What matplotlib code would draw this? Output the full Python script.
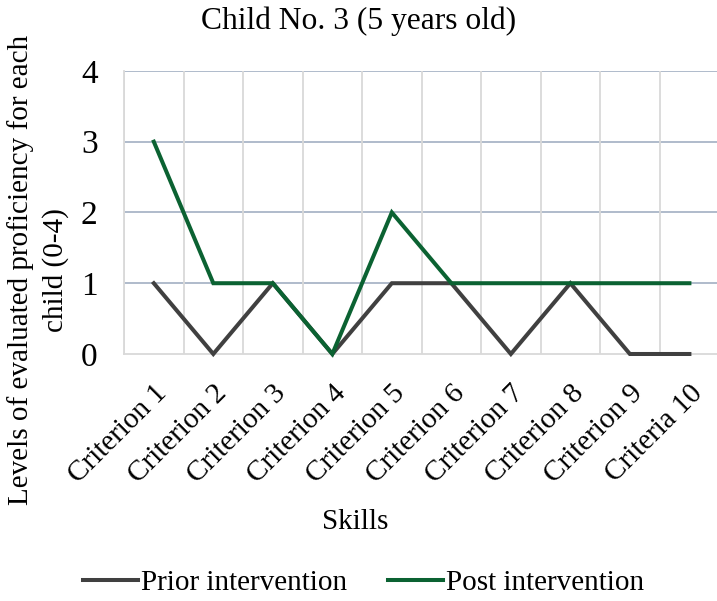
import numpy as np
import matplotlib
matplotlib.use("Agg")
import matplotlib.pyplot as plt

plt.rcParams["font.family"] = ["Liberation Serif", "DejaVu Serif"]

criteria = [
    "Criterion 1", "Criterion 2", "Criterion 3", "Criterion 4", "Criterion 5",
    "Criterion 6", "Criterion 7", "Criterion 8", "Criterion 9", "Criteria 10",
]
prior = [1, 0, 1, 0, 1, 1, 0, 1, 0, 0]
post = [3, 1, 1, 0, 2, 1, 1, 1, 1, 1]
y_ticks = [0, 1, 2, 3, 4]

PRIOR_COLOR = "#404040"
POST_COLOR = "#0b6232"
HGRID = "#a9b5c7"
VGRID = "#d9d9d9"


def main():
    fig = plt.figure(figsize=(7.17, 6.01), dpi=100)
    ax = fig.add_axes([0.173, 0.411, 0.83, 0.471])

    x = np.arange(len(criteria))
    # clip_on off so the zero segments keep their full width over the axis line
    ax.plot(x, prior, color=PRIOR_COLOR, linewidth=2.9, label="Prior intervention",
            solid_joinstyle="miter", zorder=3, clip_on=False)
    ax.plot(x, post, color=POST_COLOR, linewidth=2.9, label="Post intervention",
            solid_joinstyle="miter", zorder=4, clip_on=False)

    ax.set_xlim(-0.5, len(criteria) - 0.5)
    ax.set_ylim(0, 4)
    ax.set_yticks(y_ticks)
    ax.set_yticklabels([str(v) for v in y_ticks], fontsize=24)
    ax.set_xticks(x)
    ax.set_xticklabels(criteria, rotation=45, ha="right", rotation_mode="anchor",
                       fontsize=21)
    ax.set_xticks(np.arange(-0.5, len(criteria), 1), minor=True)
    ax.tick_params(axis="both", which="both", length=0)
    ax.tick_params(axis="y", pad=19)
    ax.tick_params(axis="x", pad=19)

    # gridlines: blue-ish horizontals, light grey verticals at category edges
    for v in y_ticks[1:]:
        ax.axhline(v, color=HGRID, linewidth=1.3, zorder=1)
    ax.grid(axis="x", which="minor", color=VGRID, linewidth=1.3, zorder=0)
    ax.grid(axis="x", which="major", visible=False)

    for side in ["top", "right"]:
        ax.spines[side].set_visible(False)
    ax.spines["left"].set_color(VGRID)
    ax.spines["bottom"].set_color(VGRID)
    ax.spines["left"].set_linewidth(1.3)
    ax.spines["bottom"].set_linewidth(1.3)
    ax.spines["bottom"].set_zorder(2)

    fig.text(0.5, 0.965, "Child No. 3 (5 years old)", ha="center", va="center",
             fontsize=22.7)
    fig.text(0.053, 0.551, "Levels of evaluated proficiency for each\nchild (0-4)",
             rotation=90, ha="center", va="center", multialignment="center",
             fontsize=21, linespacing=1.35)
    fig.text(0.496, 0.131, "Skills", ha="center", va="center", fontsize=21)

    fig.legend(loc="center", bbox_to_anchor=(0.507, 0.030), ncol=2, frameon=False,
               fontsize=21, handlelength=1.9, handletextpad=0.1, columnspacing=1.4)

    fig.savefig("out.png", dpi=100)
    plt.close(fig)


if __name__ == "__main__":
    main()
